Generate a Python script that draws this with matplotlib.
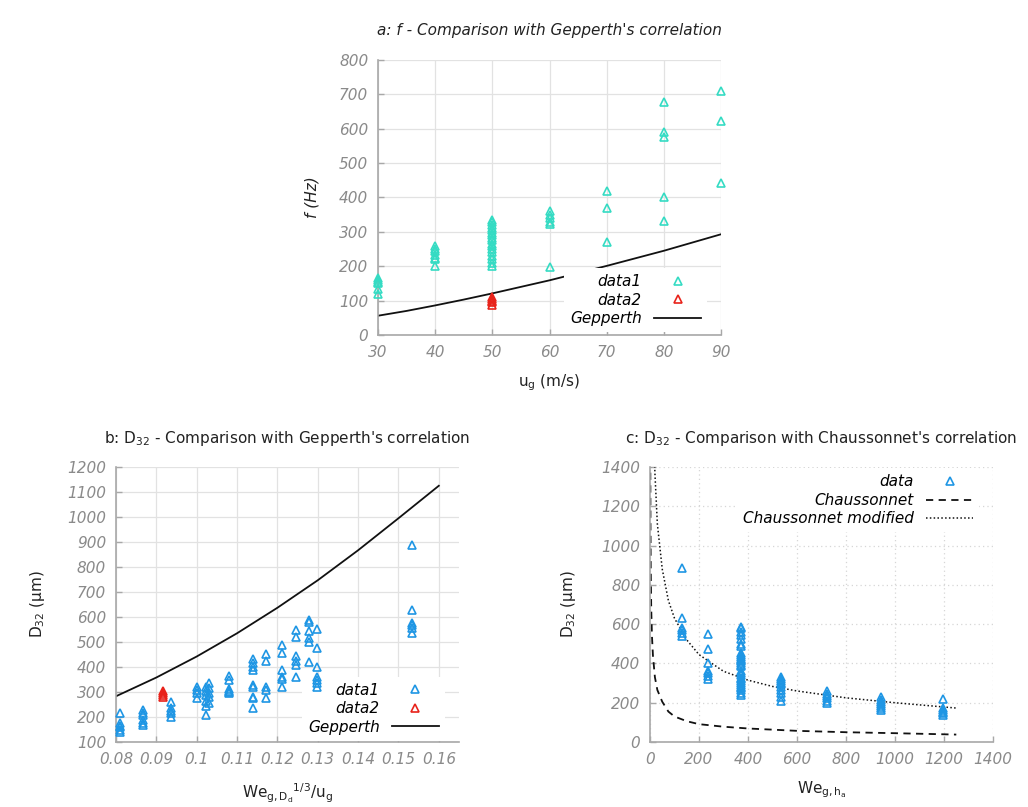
import numpy as np
import matplotlib
matplotlib.use('Agg')
import matplotlib.pyplot as plt
from matplotlib.ticker import FormatStrFormatter
plt.rcParams.update({'mathtext.default': 'regular'})
plt.rcParams['font.family'] = ['DejaVu Sans']

# ---- panel a: f vs u_g
a_cols = [30, 40, 50, 60, 70, 80, 90]
a_data1 = [
    [165, 160, 155, 150, 135, 120],
    [258, 250, 245, 232, 225, 220, 202],
    [335, 328, 320, 312, 305, 298, 290, 282, 275, 265, 258, 250, 240, 230, 220, 210, 202],
    [360, 350, 340, 330, 322, 198],
    [420, 370, 270],
    [677, 590, 575, 400, 333],
    [710, 623, 443],
]
a_data2_u = [50, 50, 50, 50, 50]
a_data2_f = [110, 105, 100, 95, 88]
a_gep_u = [30, 35, 40, 45, 50, 55, 60, 65, 70, 75, 80, 85, 90]
a_gep_f = [56, 70, 86, 103, 121, 140, 159, 180, 201, 223, 245, 269, 293]

# ---- panel b: D32 vs We^(1/3)/u
b_cols = [0.081, 0.0866, 0.0936, 0.1, 0.1023, 0.1031, 0.108, 0.114,
          0.1171, 0.1212, 0.1247, 0.1278, 0.1298, 0.1534]
b_data1 = [
    [218, 175, 165, 160, 150, 140],
    [228, 218, 208, 190, 178, 168],
    [262, 238, 225, 215, 200],
    [322, 310, 295, 278],
    [320, 305, 290, 265, 245, 210],
    [335, 315, 295, 280, 255],
    [365, 350, 312, 305, 300, 295],
    [432, 418, 402, 390, 328, 320, 282, 275, 238],
    [452, 425, 322, 310, 278],
    [490, 455, 388, 362, 352, 322],
    [550, 522, 445, 425, 410, 362],
    [590, 580, 545, 515, 500, 422],
    [552, 475, 402, 362, 350, 335, 320],
    [888, 630, 578, 568, 555, 538],
]
b_data2_x = [0.0916, 0.0916, 0.0916, 0.0916]
b_data2_d = [305, 298, 290, 282]
b_gep_x = [0.08, 0.09, 0.10, 0.11, 0.12, 0.13, 0.14, 0.15, 0.16]
b_gep_d = [283, 358, 442, 535, 637, 747, 867, 995, 1125]

# ---- panel c: D32 vs We_g,ha
c_cols = [132, 238, 370, 533, 723, 942, 1196]
c_data = [
    [888, 630, 578, 568, 555, 538],
    [552, 475, 402, 362, 350, 335, 320],
    [588, 578, 560, 545, 522, 500, 490, 455, 445, 432, 425, 418, 410, 402, 390,
     388, 362, 352, 340, 328, 322, 310, 300, 290, 282, 275, 265, 250, 238],
    [332, 322, 310, 300, 295, 278, 265, 248, 228, 210],
    [258, 245, 232, 222, 210, 198],
    [228, 215, 205, 195, 185, 175, 165],
    [218, 175, 165, 155, 148, 140],
]
c_chau_we = [1, 2, 3, 5, 8, 12, 20, 30, 50, 75, 100, 150, 200, 300, 400, 600, 800, 1000, 1250]
c_chau_d = [1500, 1100, 880, 680, 540, 440, 330, 265, 205, 155, 130, 106, 91, 78, 69, 57, 50, 45, 38]
c_mod_we = [15, 20, 30, 50, 75, 100, 150, 200, 300, 400, 500, 600, 800, 1000, 1250]
c_mod_d = [1580, 1370, 1110, 880, 720, 630, 520, 445, 360, 315, 283, 260, 225, 200, 173]

TURQ = '#35dbc3'
RED = '#e8231b'
BLUE = '#1f96e4'
AXC = '#a8a8a8'
TICKC = '#8a8a8a'
TXT = '#222222'


def cols_to_xy(cols, vals):
    x = np.concatenate([[c] * len(v) for c, v in zip(cols, vals)])
    y = np.concatenate(vals)
    return x, y


def style_axes(ax, grid_ls='-'):
    for s in ['top', 'right']:
        ax.spines[s].set_visible(False)
    for s in ['left', 'bottom']:
        ax.spines[s].set_color(AXC)
        ax.spines[s].set_linewidth(1.2)
    ax.tick_params(direction='in', length=4, width=1, color=AXC,
                   labelcolor=TICKC, labelsize=11, pad=7)
    for lab in ax.get_xticklabels() + ax.get_yticklabels():
        lab.set_fontstyle('italic')
    if grid_ls == '-':
        ax.grid(True, color='#e2e2e2', lw=0.9, ls='-')
    else:
        ax.grid(True, color='#d6d6d6', lw=0.9, ls=(0, (1, 2.5)))
    ax.set_axisbelow(True)


mk = dict(marker='^', ls='none', ms=5.5, mfc='none', mew=1.2, clip_on=False, zorder=3)
leg_kw = dict(markerfirst=False, frameon=True, fancybox=False, framealpha=1,
              edgecolor='none', facecolor='white', borderaxespad=0, borderpad=0.4,
              handlelength=3.1, handletextpad=0.8, labelspacing=0.22, numpoints=1,
              prop={'style': 'italic', 'size': 11})

fig = plt.figure(figsize=(10.28, 8.07), dpi=100)

# ---------------- a
ax = fig.add_axes([0.3677, 0.5849, 0.3337, 0.3408])
x1, y1 = cols_to_xy(a_cols, a_data1)
ax.plot(x1, y1, color=TURQ, label='data1', **mk)
ax.plot(a_data2_u, a_data2_f, color=RED, label='data2', **mk)
ax.plot(a_gep_u, a_gep_f, color='#111111', lw=1.3, label='Gepperth')
ax.set_xlim(30, 90)
ax.set_ylim(0, 800)
ax.set_xticks(np.arange(30, 91, 10))
ax.set_yticks(np.arange(0, 801, 100))
style_axes(ax)
ax.set_title("a: f - Comparison with Gepperth's correlation", fontsize=11,
             style='italic', color=TXT, pad=18)
ax.set_xlabel('u$_g$ (m/s)', fontsize=11, color=TXT)
ax.set_ylabel('f (Hz)', fontsize=11, color=TXT, style='italic')
ax.xaxis.set_label_coords(0.5, -0.135)
ax.yaxis.set_label_coords(-0.17, 0.5)
leg = ax.legend(loc='lower right', bbox_to_anchor=(0.96, 0.01), **leg_kw)
leg.set_zorder(2.5)

# ---------------- b
ax = fig.add_axes([0.1128, 0.0805, 0.3337, 0.3408])
x1, y1 = cols_to_xy(b_cols, b_data1)
ax.plot(x1, y1, color=BLUE, label='data1', **mk)
ax.plot(b_data2_x, b_data2_d, color=RED, label='data2', **mk)
ax.plot(b_gep_x, b_gep_d, color='#111111', lw=1.3, label='Gepperth')
ax.set_xlim(0.08, 0.165)
ax.set_ylim(100, 1200)
ax.set_xticks(np.arange(0.08, 0.1601, 0.01))
ax.set_yticks(np.arange(100, 1201, 100))
ax.xaxis.set_major_formatter(FormatStrFormatter('%g'))
style_axes(ax)
ax.set_title("b: D$_{32}$ - Comparison with Gepperth's correlation", fontsize=11,
             color=TXT, pad=17)
ax.set_xlabel('We$_{g,D_d}$$^{1/3}$/u$_g$', fontsize=11, color=TXT)
ax.set_ylabel('D$_{32}$ (\u00b5m)', fontsize=11, color=TXT)
ax.xaxis.set_label_coords(0.5, -0.145)
ax.yaxis.set_label_coords(-0.2, 0.5)
leg = ax.legend(loc='lower right', bbox_to_anchor=(0.96, 0.005), **leg_kw)
leg.set_zorder(2.5)

# ---------------- c
ax = fig.add_axes([0.6323, 0.0805, 0.3337, 0.3408])
x1, y1 = cols_to_xy(c_cols, c_data)
ax.plot(x1, y1, color=BLUE, label='data', **mk)
ax.plot(c_chau_we, c_chau_d, color='#111111', lw=1.3, ls=(0, (4, 3)), label='Chaussonnet')
ax.plot(c_mod_we, c_mod_d, color='#111111', lw=1.1, ls=(0, (1, 1.5)), label='Chaussonnet modified')
ax.set_xlim(0, 1400)
ax.set_ylim(0, 1400)
ax.set_xticks(np.arange(0, 1401, 200))
ax.set_yticks(np.arange(0, 1401, 200))
style_axes(ax, grid_ls=':')
ax.set_title("c: D$_{32}$ - Comparison with Chaussonnet's correlation", fontsize=11,
             color=TXT, pad=17)
ax.set_xlabel('We$_{g,h_a}$', fontsize=11, color=TXT)
ax.set_ylabel('D$_{32}$ (\u00b5m)', fontsize=11, color=TXT)
ax.xaxis.set_label_coords(0.5, -0.135)
ax.yaxis.set_label_coords(-0.21, 0.5)
leg = ax.legend(loc='upper right', bbox_to_anchor=(0.96, 0.995), **leg_kw)
leg.set_zorder(2.5)

fig.savefig('out.png', dpi=100, facecolor='white')
